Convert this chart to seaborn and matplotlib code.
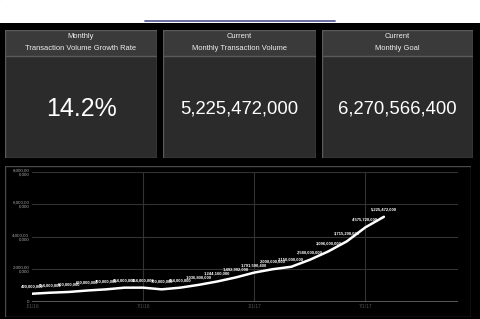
import numpy as np
import pandas as pd
import seaborn as sns
import matplotlib.pyplot as plt
from matplotlib.patches import Rectangle

# card contents
card_titles = [("Monthly", "Transaction Volume Growth Rate"),
               ("Current", "Monthly Transaction Volume"),
               ("Current", "Monthly Goal")]
card_values = ["14.2%", "5,225,472,000", "6,270,566,400"]

# monthly transaction volume series
months = list(range(20))
volume = [490000000, 554000000, 600000000, 690000000, 760000000,
          864000000, 864000000, 760000000, 864000000, 1036800000,
          1244160000, 1492992000, 1791590400, 2000000000, 2150000000,
          2580000000, 3096000000, 3715200000, 4575720000, 5225472000]
date_ticks = [0, 6, 12, 18]
date_labels = ["1/1/16", "7/1/16", "1/1/17", "7/1/17"]
y_ticks = [0, 2e9, 4e9, 6e9, 8e9]
y_labels = ["0", "2,000,00\n0,000", "4,000,00\n0,000", "6,000,00\n0,000", "8,000,00\n0,000"]

W, H = 480, 319
sns.set_theme(style="dark")
plt.rcParams['font.family'] = ['Liberation Sans', 'DejaVu Sans']
narrow = ['Liberation Sans Narrow', 'Liberation Sans', 'DejaVu Sans']


def box(x0, y0, x1, y1):
    return [x0 / W, 1 - y1 / H, (x1 - x0) / W, (y1 - y0) / H]


fig = plt.figure(figsize=(W / 100, H / 100), dpi=100, facecolor='black')

# white strip on top with the blue rule
top = fig.add_axes(box(0, 0, 480, 23))
top.set_xlim(0, 480)
top.set_ylim(23, 0)
top.set_facecolor('white')
top.axis('off')
top.add_patch(Rectangle((0, 0), 480, 23, color='white'))
top.plot([145, 335], [20.5, 20.5], color='#5b6199', lw=1.3)

# KPI cards
card_x = [(5, 157), (163, 316), (322, 473)]
for (x0, x1), (t1, t2), val in zip(card_x, card_titles, card_values):
    ax = fig.add_axes(box(x0, 30, x1, 158))
    ax.set_xlim(0, 1)
    ax.set_ylim(1, 0)
    ax.axis('off')
    ax.add_patch(Rectangle((0, 0), 1, 1, facecolor='#2b2b2b', edgecolor='#5a5a5a', lw=1))
    hh = 26 / 128
    ax.add_patch(Rectangle((0, 0), 1, hh, facecolor='#3a3a3a', edgecolor='#5a5a5a', lw=1))
    ax.text(0.5, 7 / 128, t1, ha='center', va='center', color='#f0f0f0', fontsize=5.4, family=narrow)
    ax.text(0.5, 19 / 128, t2, ha='center', va='center', color='#f0f0f0', fontsize=5.4, family=narrow)
    fs = 18 if len(val) < 8 else 13.3
    ax.text(0.5, 79 / 128, val, ha='center', va='center', color='white', fontsize=fs)

# chart panel border
panel = fig.add_axes(box(5, 166, 471, 317))
panel.set_xlim(0, 1)
panel.set_ylim(0, 1)
panel.axis('off')
panel.add_patch(Rectangle((0, 0), 1, 1, facecolor='black', edgecolor='#4a4a4a', lw=1))

# line chart
df = pd.DataFrame({'month': months, 'volume': volume})
ax = fig.add_axes(box(32, 171.7, 458, 301.7))
ax.set_facecolor('black')
for s in ax.spines.values():
    s.set_visible(False)
for yv in y_ticks[1:]:
    ax.axhline(yv, color='#333333', lw=0.8, zorder=0)
for xv in date_ticks[1:]:
    ax.axvline(xv, color='#333333', lw=0.8, zorder=0)
ax.axhline(0, color='#555555', lw=1.5, zorder=1)
sns.lineplot(data=df, x='month', y='volume', color='white', lw=1.8, ax=ax, zorder=3)
for m, v in zip(months, volume):
    ax.annotate(f"{v:,}", (m, v), xytext=(0, 5.5), textcoords='offset points',
                ha='center', va='center', color='white', fontsize=3.0, fontweight='bold')
ax.set_xlim(0, 23)
ax.set_ylim(0, 8e9)
ax.set_xticks(date_ticks)
ax.set_xticklabels(date_labels, color='#555555', fontsize=3.4)
ax.set_yticks(y_ticks)
ax.set_yticklabels(y_labels, color='#aaaaaa', fontsize=3.2, linespacing=1.1)
ax.tick_params(length=0, pad=2)
ax.set_xlabel('')
ax.set_ylabel('')
ax.grid(False)

fig.savefig('out.png', dpi=100, facecolor='black')
